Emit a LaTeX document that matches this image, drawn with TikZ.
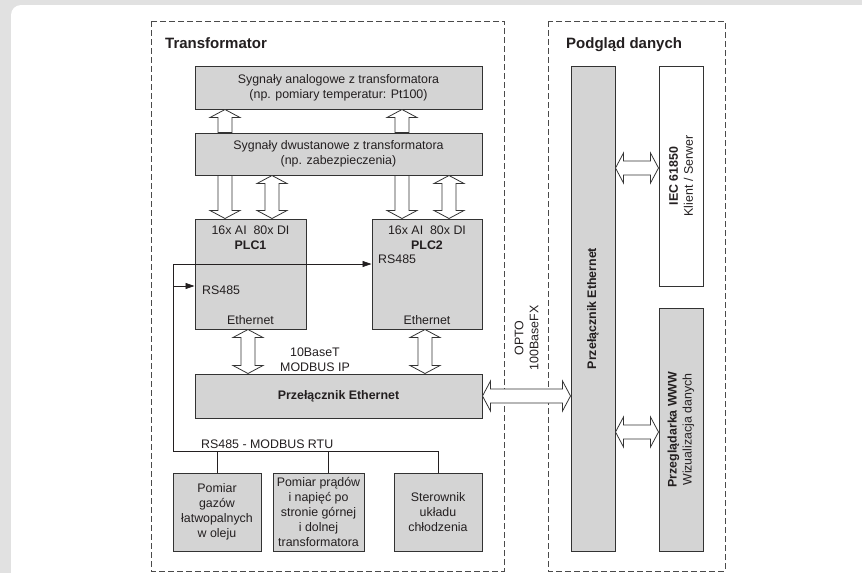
\documentclass[tikz,border=0pt]{standalone}
\usepackage{fontspec}
\setmainfont{Liberation Sans}
\usetikzlibrary{arrows.meta,calc}

\definecolor{bggray}{HTML}{E1E1E1}
\definecolor{boxgray}{HTML}{D4D4D4}
\definecolor{edge}{HTML}{333333}
\definecolor{ink}{HTML}{231F20}
\definecolor{framegray}{HTML}{4A4A4A}

\newcommand\bodyfont{\fontsize{12.4}{15}\selectfont}
\newcommand\titlefont{\fontsize{15}{18}\selectfont\bfseries}

\tikzset{
  box/.style={draw=edge, fill=boxgray, line width=1pt, inner sep=0pt,
              align=center, font=\bodyfont, text=ink},
  whitebox/.style={box, fill=white},
  label/.style={font=\bodyfont, text=ink, inner sep=0pt},
  rlabel/.style={label, rotate=90, align=center},
  title/.style={font=\titlefont, text=ink, inner sep=0pt, anchor=base west},
  frame/.style={draw=framegray, line width=0.9pt, dash pattern=on 6pt off 3pt},
  wire/.style={draw=ink, line width=0.8pt, line join=miter},
  tip/.style={-{Triangle[length=9pt,width=6pt]}},
  fatarrow/.style={draw=edge, fill=white, line width=0.8pt, line join=miter},
}

% hollow block arrow, one head at the second point
\newcommand\fatsingle[2]{%
  \draw[fatarrow] let \p1=#1, \p2=#2,
      \n1={veclen(\x2-\x1,\y2-\y1)},
      \n2={(\x2-\x1)/\n1}, \n3={(\y2-\y1)/\n1}
    in ({\x1-7*(\n3)},{\y1+7*(\n2)})
    -- ({\x1+(\n1-8)*(\n2)-7*(\n3)},{\y1+(\n1-8)*(\n3)+7*(\n2)})
    -- ({\x1+(\n1-8)*(\n2)-15*(\n3)},{\y1+(\n1-8)*(\n3)+15*(\n2)})
    -- (\x2,\y2)
    -- ({\x1+(\n1-8)*(\n2)+15*(\n3)},{\y1+(\n1-8)*(\n3)-15*(\n2)})
    -- ({\x1+(\n1-8)*(\n2)+7*(\n3)},{\y1+(\n1-8)*(\n3)-7*(\n2)})
    -- ({\x1+7*(\n3)},{\y1-7*(\n2)})
    -- cycle;}

% hollow block arrow with heads at both ends
\newcommand\fatdouble[2]{%
  \draw[fatarrow] let \p1=#1, \p2=#2,
      \n1={veclen(\x2-\x1,\y2-\y1)},
      \n2={(\x2-\x1)/\n1}, \n3={(\y2-\y1)/\n1}
    in (\x1,\y1)
    -- ({\x1+8*(\n2)-15*(\n3)},{\y1+8*(\n3)+15*(\n2)})
    -- ({\x1+8*(\n2)-7*(\n3)},{\y1+8*(\n3)+7*(\n2)})
    -- ({\x1+(\n1-8)*(\n2)-7*(\n3)},{\y1+(\n1-8)*(\n3)+7*(\n2)})
    -- ({\x1+(\n1-8)*(\n2)-15*(\n3)},{\y1+(\n1-8)*(\n3)+15*(\n2)})
    -- (\x2,\y2)
    -- ({\x1+(\n1-8)*(\n2)+15*(\n3)},{\y1+(\n1-8)*(\n3)-15*(\n2)})
    -- ({\x1+(\n1-8)*(\n2)+7*(\n3)},{\y1+(\n1-8)*(\n3)-7*(\n2)})
    -- ({\x1+8*(\n2)+7*(\n3)},{\y1+8*(\n3)-7*(\n2)})
    -- ({\x1+8*(\n2)+15*(\n3)},{\y1+8*(\n3)-15*(\n2)})
    -- cycle;}

\begin{document}
\begin{tikzpicture}[x=1pt, y=-1pt]
  \useasboundingbox (0,0) rectangle (862,573);
  \clip (0,0) rectangle (862,573);

  % page background
  \fill[bggray] (0,0) rectangle (862,573);
  \fill[white, rounded corners=10pt] (11,5) rectangle (880,600);

  % group frames
  \draw[frame] (151,21) rectangle (504,571);
  \draw[frame] (548,21) rectangle (725,571);
  \node[title] (ttrafo) at (165,48) {Transformator};
  \node[title] (tview) at (566,48) {Podgląd danych};

  % transformer side
  \node[box, minimum width=287pt, minimum height=43pt] (sa) at (338.5,87.5)
    {Sygnały analogowe z transformatora\\(np. pomiary temperatur: Pt100)};
  \node[box, minimum width=287pt, minimum height=42pt] (sd) at (338.5,154)
    {Sygnały dwustanowe z transformatora\\(np. zabezpieczenia)};
  \node[box, minimum width=111pt, minimum height=110pt] (plc1) at (250.5,274) {};
  \node[box, minimum width=110pt, minimum height=110pt] (plc2) at (427,274) {};
  \node[box, minimum width=287pt, minimum height=44pt] (sw) at (338.5,396)
    {\textbf{Przełącznik Ethernet}};
  \node[box, minimum width=88pt, minimum height=78pt] (b1) at (217,512)
    {Pomiar\\gazów\\łatwopalnych\\w oleju};
  \node[box, minimum width=91pt, minimum height=78pt] (b2) at (318.5,512)
    {Pomiar prądów\\i napięć po\\stronie górnej\\i dolnej\\transformatora};
  \node[box, minimum width=88pt, minimum height=78pt] (b3) at (438,512)
    {Sterownik\\układu\\chłodzenia};

  % PLC inscriptions
  \node[label, anchor=base] (io1) at (250.5,234.5) {16x AI\ \ 80x DI};
  \node[label, anchor=base] (n1) at (250.5,249.5) {\textbf{PLC1}};
  \node[label, anchor=base west] (rs1) at (202,294) {RS485};
  \node[label, anchor=base] (eth1) at (250.5,324) {Ethernet};
  \node[label, anchor=base] (io2) at (427,234.5) {16x AI\ \ 80x DI};
  \node[label, anchor=base] (n2) at (427,249.5) {\textbf{PLC2}};
  \node[label, anchor=base west] (rs2) at (378,263.5) {RS485};
  \node[label, anchor=base] (eth2) at (427,324) {Ethernet};

  \node[label, align=center] (tcp) at (315,360) {10BaseT\\MODBUS IP};
  \node[label, anchor=base west] (rtu) at (201,448.5) {RS485 - MODBUS RTU};
  \node[label, rotate=90, align=center] (opto) at (526.5,338) {OPTO\\100BaseFX};

  % data view side
  \node[box, minimum width=44pt, minimum height=485pt] (swv) at (593,308.5) {};
  \node[whitebox, minimum width=44pt, minimum height=220pt] (iec) at (681,176) {};
  \node[box, minimum width=44pt, minimum height=243pt] (www) at (681,429.5) {};
  \node[rlabel] (swvt) at (swv.center) {\textbf{Przełącznik Ethernet}};
  \node[rlabel] (iect) at (iec.center) {\textbf{IEC 61850}\\Klient / Serwer};
  \node[rlabel] (wwwt) at (www.center) {\textbf{Przeglądarka WWW}\\Wizualizacja danych};

  % RS485 bus
  \coordinate (busL) at (173,451);
  \coordinate (busTop) at (173,264);
  \coordinate (tap) at (173,286);
  \coordinate (b2tap) at ([xshift=9.5pt]b2.north);
  \draw[wire] (b1.north) -- (b1.north |- busL);
  \draw[wire] (b2tap) -- (b2tap |- busL);
  \draw[wire, tip] (b3.north) |- (busL) -- (busTop) -- (busTop -| plc2.west);
  \draw[wire, tip] (tap) -- (tap -| plc1.west);

  % block arrows
  \fatsingle{(225,0 |- sd.north)}{(225,0 |- sa.south)}
  \fatsingle{(402,0 |- sd.north)}{(402,0 |- sa.south)}
  \fatsingle{(225,0 |- sd.south)}{(225,0 |- plc1.north)}
  \fatdouble{(272,0 |- sd.south)}{(272,0 |- plc1.north)}
  \fatsingle{(402,0 |- sd.south)}{(402,0 |- plc2.north)}
  \fatdouble{(449,0 |- sd.south)}{(449,0 |- plc2.north)}
  \fatdouble{(248,0 |- plc1.south)}{(248,0 |- sw.north)}
  \fatdouble{(425,0 |- plc2.south)}{(425,0 |- sw.north)}
  \fatdouble{(sw.east)}{(sw.east -| swv.west)}
  \fatdouble{(swv.east |- 0,168)}{(iec.west |- 0,168)}
  \fatdouble{(swv.east |- 0,432)}{(www.west |- 0,432)}
\end{tikzpicture}
\end{document}
